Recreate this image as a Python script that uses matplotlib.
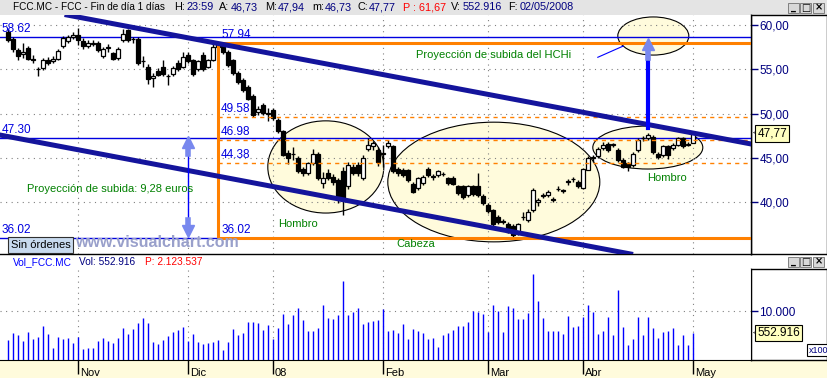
import numpy as np
import matplotlib
matplotlib.use('Agg')
import matplotlib.pyplot as plt
from matplotlib.patches import Ellipse, Rectangle
from matplotlib.transforms import blended_transform_factory

plt.rcParams['font.family'] = ['Liberation Sans', 'DejaVu Sans']

# daily candles FCC.MC, oct-2007 .. 02/05/2008 (one row per session)
opens = [59.2, 58.4, 57.2, 56.7, 57.4, 56.15, 55.0, 55.1, 56.1, 55.9,
         56.2, 57.6, 58.2, 58.7, 58.9, 58.2, 57.6, 57.9, 58.0, 56.5,
         57.4, 56.8, 56.3, 58.3, 59.4, 58.4, 58.4, 55.9, 55.3, 54.0,
         54.8, 55.3, 54.2, 54.5, 55.7, 55.3, 56.6, 56.0, 55.0, 56.6,
         55.3, 56.1, 57.5, 57.6, 57.0, 56.0, 54.6, 53.8, 53.0, 52.0,
         50.2, 51.0, 50.0, 50.4, 49.3, 48.0, 45.6, 45.4, 45.0, 43.8,
         43.3, 44.4, 45.5, 42.2, 43.3, 42.9, 42.5, 43.5, 41.8, 44.0,
         44.2, 42.7, 46.0, 46.3, 45.9, 45.5, 46.3, 46.3, 43.8, 43.65,
         43.6, 42.1, 41.6, 42.2, 43.8, 42.9, 43.1, 43.2, 42.7, 42.7,
         41.8, 41.8, 40.8, 41.8, 41.8, 40.7, 39.7, 39.1, 38.4, 37.85,
         37.6, 37.3, 36.5, 38.35, 38.0, 39.1, 40.0, 40.75, 40.8, 40.3,
         41.5, 41.3, 42.3, 42.6, 42.3, 41.6, 43.7, 45.0, 45.2, 46.1,
         46.6, 46.5, 45.9, 44.8, 44.4, 44.2, 45.9, 47.2, 47.2, 47.4,
         45.5, 45.3, 46.3, 46.1, 46.5, 47.2, 46.5, 46.73]
highs = [59.5, 58.6, 57.4, 58.0, 57.6, 56.6, 55.3, 56.3, 56.4, 56.5,
         57.3, 58.8, 58.9, 59.2, 59.7, 58.5, 58.3, 58.3, 58.2, 57.5,
         57.9, 57.0, 57.5, 59.5, 59.6, 58.7, 58.6, 56.5, 55.6, 54.6,
         55.2, 56.0, 54.5, 55.4, 56.0, 56.9, 56.9, 56.2, 56.1, 57.0,
         56.2, 57.9, 57.94, 57.8, 57.2, 56.2, 54.8, 54.0, 53.2, 52.2,
         50.9, 51.2, 50.6, 50.6, 49.5, 48.2, 45.9, 46.2, 45.2, 44.0,
         44.6, 46.0, 45.7, 43.4, 43.8, 43.2, 42.7, 44.0, 44.5, 44.3,
         44.6, 45.3, 47.2, 46.9, 46.2, 46.5, 47.0, 46.5, 44.0, 43.9,
         43.8, 42.3, 42.9, 43.1, 44.0, 43.2, 43.7, 43.4, 42.9, 43.0,
         42.0, 42.0, 42.0, 42.0, 43.3, 40.9, 39.9, 39.3, 38.6, 38.1,
         37.8, 37.5, 37.7, 38.9, 39.2, 41.6, 40.5, 41.0, 41.4, 40.6,
         41.8, 41.5, 42.6, 42.9, 42.5, 43.9, 45.2, 45.3, 46.2, 46.8,
         46.8, 46.7, 46.1, 45.0, 44.6, 45.7, 47.2, 47.5, 47.8, 47.6,
         45.7, 46.5, 46.5, 46.7, 47.4, 47.4, 46.8, 47.94]
lows = [58.1, 57.0, 56.0, 56.3, 56.0, 55.7, 54.2, 54.9, 55.5, 55.7,
        56.0, 57.4, 58.0, 58.4, 57.8, 57.3, 57.4, 57.6, 56.9, 56.3,
        56.9, 56.0, 56.1, 58.1, 58.1, 58.0, 55.5, 55.3, 53.4, 53.0,
        54.2, 54.3, 53.2, 54.2, 54.8, 55.1, 55.7, 54.3, 54.8, 54.8,
        55.1, 55.9, 57.2, 56.7, 55.3, 54.4, 53.4, 52.5, 51.5, 49.6,
        49.9, 49.8, 49.2, 49.3, 47.8, 45.2, 44.3, 44.8, 43.3, 43.0,
        43.1, 44.2, 42.5, 41.6, 42.5, 42.0, 39.9, 38.6, 41.5, 43.1,
        43.0, 42.5, 45.8, 45.9, 44.1, 44.0, 46.1, 43.3, 43.0, 42.9,
        42.3, 41.0, 41.4, 42.0, 42.9, 42.5, 42.9, 43.0, 42.0, 41.9,
        40.8, 40.4, 40.6, 40.7, 40.6, 39.7, 38.8, 37.3, 37.6, 37.5,
        36.5, 36.02, 36.3, 38.0, 37.8, 38.9, 39.6, 40.5, 40.6, 40.0,
        41.3, 41.1, 42.0, 42.3, 41.6, 41.5, 43.6, 44.6, 45.0, 45.9,
        45.7, 46.2, 44.6, 43.9, 43.5, 44.0, 45.7, 46.9, 47.0, 45.5,
        44.9, 45.1, 44.9, 45.9, 46.3, 46.1, 46.3, 46.73]
closes = [58.3, 57.3, 56.5, 57.0, 56.2, 56.1, 55.0, 56.1, 55.7, 56.2,
          57.1, 58.5, 58.6, 58.9, 58.3, 57.6, 58.0, 58.0, 57.2, 57.3,
          57.5, 56.2, 57.3, 59.0, 58.3, 58.4, 55.7, 55.9, 53.9, 54.3,
          54.4, 54.5, 54.2, 55.2, 55.0, 56.4, 55.9, 54.5, 55.9, 55.0,
          56.0, 57.5, 57.9, 56.9, 55.5, 54.6, 53.6, 52.7, 51.7, 49.9,
          50.5, 50.1, 50.0, 49.5, 48.0, 45.3, 45.0, 45.5, 43.5, 43.3,
          44.4, 45.5, 42.7, 42.7, 42.7, 42.3, 40.6, 40.5, 44.2, 43.3,
          43.3, 44.97, 46.5, 46.7, 44.5, 45.6, 46.7, 43.5, 43.3, 43.1,
          42.5, 41.2, 42.7, 42.9, 43.1, 42.95, 43.5, 43.25, 42.2, 42.1,
          41.0, 40.6, 41.8, 40.9, 40.8, 39.9, 39.0, 37.5, 37.8, 37.8,
          36.7, 36.3, 37.5, 38.4, 38.95, 41.4, 40.3, 40.8, 41.2, 40.35,
          41.5, 41.35, 42.35, 42.65, 41.8, 43.8, 45.0, 45.1, 46.0, 46.5,
          45.9, 46.55, 44.8, 44.0, 44.0, 45.5, 47.0, 47.25, 47.6, 45.7,
          45.1, 46.3, 45.3, 46.5, 47.2, 46.3, 46.55, 47.77]
# volume in thousands of shares (axis shows x100)
volumes = [411, 555, 514, 390, 575, 432, 473, 699, 534, 247,
           473, 432, 452, 349, 473, 226, 247, 247, 390, 452,
           390, 349, 452, 658, 534, 637, 760, 863, 760, 370,
           329, 411, 493, 575, 617, 678, 390, 534, 370, 329,
           349, 370, 411, 206, 370, 637, 514, 555, 781, 781,
           760, 617, 719, 432, 658, 945, 740, 925, 1069, 822,
           596, 596, 658, 1130, 863, 843, 925, 1623, 925, 986,
           1069, 740, 781, 801, 822, 1048, 596, 617, 555, 740,
           432, 637, 596, 555, 432, 452, 267, 514, 555, 617,
           699, 699, 781, 1007, 986, 945, 575, 1130, 1007, 575,
           1110, 1069, 843, 843, 966, 1767, 1212, 863, 596, 596,
           596, 534, 904, 678, 699, 884, 1130, 986, 534, 596,
           884, 514, 1439, 678, 308, 432, 884, 514, 884, 658,
           452, 575, 596, 658, 308, 514, 308, 553]
month_pos = [14, 36, 53, 75, 96, 115, 137]
month_lbl = ['Nov', 'Dic', '08', 'Feb', 'Mar', 'Abr', 'May']
price_ticks = [40, 45, 50, 55, 60]
fibo_levels = [57.94, 49.58, 46.98, 44.38, 36.02]
last_close = 47.77
last_vol = 552.916

opens = np.array(opens); highs = np.array(highs)
lows = np.array(lows); closes = np.array(closes)
idx = np.arange(len(closes))

W, H = 828, 378
fig = plt.figure(figsize=(W / 100, H / 100), dpi=100, facecolor='white')


def box(x0, y0, x1, y1):
    # axes from pixel box, origin top-left
    return fig.add_axes([x0 / W, 1 - y1 / H, (x1 - x0) / W, (y1 - y0) / H])


def ftext(x, y, s, **kw):
    kw.setdefault('fontsize', 7.3)
    kw.setdefault('va', 'center')
    fig.text(x / W, 1 - y / H, s, **kw)


def buttons(y):
    for i, sym in enumerate(['_', '□', '×']):
        x = 788 + i * 12.5
        fig.add_artist(Rectangle((x / W, 1 - (y + 10) / H), 11 / W, 10 / H,
                                 transform=fig.transFigure, fc='#d8d8d8',
                                 ec='#707070', lw=0.6))
        ftext(x + 5.5, y + 4.5, sym, ha='center', fontsize=7, fontweight='bold',
              family='DejaVu Sans')


def plain(a):
    a.set_xticks([]); a.set_yticks([])
    for s in a.spines.values():
        s.set_visible(False)


# title bar
tb = box(0, 0, W, 15)
tb.set_facecolor('#e4e4e4'); plain(tb)
parts = [(13, 'FCC.MC - FCC - Fin de día 1 días', 'black'), (174, 'H:', 'black'),
         (187, '23:59', '#000080'), (219, 'A:', 'black'), (231, '46,73', '#000080'),
         (265, 'M:', 'black'), (278, '47,94', '#000080'), (312, 'm:', 'black'),
         (325, '46,73', '#000080'), (357, 'C:', 'black'), (369, '47,77', '#000080'),
         (403, 'P : 61,67', 'red'), (451, 'V:', 'black'), (463, '552.916', '#000080'),
         (508, 'F:', 'black'), (520, '02/05/2008', '#000080')]
for x, s, c in parts:
    ftext(x, 7.5, s, color=c, fontsize=7.8 if c != 'black' or len(s) < 4 else 7.2)
buttons(3)

# right price box, then main panel
rb = box(751, 15, 827, 254); plain(rb)
for s in rb.spines.values():
    s.set_visible(True); s.set_linewidth(1)

ax = box(0, 15, 751, 254)
xmin, xmax = -1.66, 148.54
ax.set_xlim(xmin, xmax)
ax.set_ylim(34.17, 61.13)
for s in ['left', 'top']:
    ax.spines[s].set_visible(False)
ax.spines['right'].set_linewidth(1)
ax.spines['bottom'].set_linewidth(1)
ax.yaxis.tick_right()
ax.set_yticks(price_ticks)
ax.set_yticklabels(['%d,00' % v for v in price_ticks])
ax.tick_params(axis='y', length=5, width=1, color='#000080', labelcolor='#000080',
               labelsize=8.5, pad=1)
ax.set_xticks(month_pos)
ax.tick_params(axis='x', length=0, labelbottom=False)
ax.set_axisbelow('line')
ax.grid(True, color='#808080', lw=0.8, ls=(0, (1, 4)))

# pattern ellipses
for cx, cy, w, h in [(63.5, 43.99, 23.2, 10.4), (97.1, 42.29, 42.4, 13.5),
                     (127.9, 46.18, 22.0, 4.85), (129.0, 58.76, 14.2, 4.3)]:
    ax.add_patch(Ellipse((cx, cy), w, h, fc='#fffbdc', ec='black', lw=0.8, zorder=1))

# candles
up = closes >= opens
ax.vlines(idx, lows, highs, color='black', lw=1, zorder=4)
ax.bar(idx, np.maximum(np.abs(closes - opens), 0.05), bottom=np.minimum(opens, closes),
       width=0.75, color=np.where(up, 'white', 'black'), edgecolor='black', lw=0.9,
       zorder=4.1)

# reference levels
for lv in [58.62, 47.30, 36.02]:
    ax.axhline(lv, color='#0000e0', lw=1, zorder=3)
ax.vlines(42, 36.02, 57.94, color='#ff8000', lw=2.2, zorder=5)
ax.hlines([57.94, 36.02], 42, xmax, color='#ff8000', lw=2.2, zorder=5)
ax.hlines([49.58, 46.98, 44.38], 42, xmax, color='#ff8000', lw=1, ls=(0, (3, 3)), zorder=5)
for lv in fibo_levels:
    ax.annotate('%.2f' % lv, (42, lv), xytext=(2, 1.5), textcoords='offset points',
                color='#0000e0', fontsize=8.5, va='bottom', zorder=6)
for lv in [58.62, 47.30, 36.02]:
    ax.annotate('%.2f' % lv, (xmin, lv), xytext=(1, 1.5), textcoords='offset points',
                color='#0000e0', fontsize=8.5, va='bottom', zorder=6)

# trend channel
ax.axline((41.74, 57.94), (150.34, 46.39), color='#14149c', lw=3.6, zorder=5)
ax.axline((-1.66, 47.59), (122.3, 34.40), color='#14149c', lw=3.6, zorder=5)

# projection arrows
ax.plot([36, 36], [36.6, 46.6], color='#0000ff', lw=1, zorder=6)
ax.plot([36, 36], [45.4, 46.2], color='#7888ee', lw=4, zorder=6)
ax.plot([36, 36], [37.2, 38.0], color='#7888ee', lw=4, zorder=6)
ax.plot(36, 46.75, marker='^', ms=9, color='#7888ee', mec='#7888ee', zorder=6)
ax.plot(36, 36.75, marker='v', ms=9, color='#7888ee', mec='#7888ee', zorder=6)
ax.plot([128, 128], [48.38, 56.3], color='#0000ff', lw=3, zorder=6)
ax.plot([128, 128], [56.3, 57.4], color='#7888ee', lw=4, zorder=6)
ax.plot(128, 57.9, marker='^', ms=9, color='#7888ee', mec='#7888ee', zorder=6)
ax.plot([117.9, 123.0], [56.36, 57.63], color='#0000ff', lw=0.8, zorder=6)

green = '#008000'
ax.text(3.66, 41.5, 'Proyección de subida: 9,28 euros', color=green, fontsize=8,
        va='center', zorder=7)
ax.text(53.9, 37.56, 'Hombro', color=green, fontsize=8, va='center', zorder=7)
ax.text(77.7, 35.3, 'Cabeza', color=green, fontsize=8, va='center', zorder=7)
ax.text(127.7, 42.75, 'Hombro', color=green, fontsize=8, va='center', zorder=7)
ax.text(81.5, 56.6, 'Proyección de subida del HCHi', color=green, fontsize=8,
        va='center', zorder=7)
ax.text(13.4, 35.45, 'www.visualchart.com', color='#99a0cb', fontsize=11.5,
        fontweight='bold', va='center', zorder=7)
ax.text(0.5, 35.2, 'Sin órdenes', color='black', fontsize=8, va='center', zorder=8,
        bbox=dict(boxstyle='square,pad=0.25', fc='#c8daee', ec='#303030', lw=0.8))

# last price flag
tr = blended_transform_factory(ax.transAxes, ax.transData)
ax.text(1.0027, last_close, '<', transform=tr, fontsize=6, va='center', clip_on=False)
ax.text(1.0085, last_close, ('%.2f' % last_close).replace('.', ','), transform=tr,
        fontsize=8.5, va='center', clip_on=False,
        bbox=dict(boxstyle='square,pad=0.18', fc='#ffffc0', ec='black', lw=0.8))

# volume header
ftext(13, 262, 'Vol_FCC.MC', color='#0000ff')
ftext(79, 262, 'Vol: 552.916', color='#000080')
ftext(145, 262, 'P: 2.123.537', color='red')
buttons(257)

# volume panel
vb = box(751, 269, 827, 360); plain(vb)
for s in vb.spines.values():
    s.set_visible(True); s.set_linewidth(1)
vb.text(0.76, 0.06, 'x100', transform=vb.transAxes, fontsize=6.5, color='#000080',
        va='bottom', bbox=dict(boxstyle='square,pad=0.15', fc='white', ec='black', lw=0.8))

av = box(0, 269, 751, 360)
av.set_xlim(xmin, xmax)
av.set_ylim(0, 1869)
for s in ['left', 'top']:
    av.spines[s].set_visible(False)
av.yaxis.tick_right()
av.set_yticks([1000])
av.set_yticklabels(['10.000'])
av.tick_params(axis='y', length=5, width=1, color='#000080', labelcolor='#000080',
               labelsize=8.5, pad=1)
av.set_xticks(month_pos)
av.tick_params(axis='x', length=10, width=1, color='black', labelbottom=False)
av.set_axisbelow('line')
av.grid(True, color='#808080', lw=0.8, ls=(0, (1, 4)))
av.vlines(idx, 0, volumes, color='#0000ff', lw=1, zorder=3)
trv = blended_transform_factory(av.transAxes, av.transData)
av.text(1.0027, last_vol, '<', transform=trv, fontsize=6, va='center', clip_on=False)
av.text(1.0085, last_vol, '552.916', transform=trv, fontsize=8.5, va='center',
        clip_on=False, bbox=dict(boxstyle='square,pad=0.18', fc='#ffffc0', ec='black', lw=0.8))

# date strip
ds = box(0, 360, W, 378)
ds.set_facecolor('#fffbdc'); plain(ds)
ds.set_zorder(-1)
trd = blended_transform_factory(av.transData, fig.transFigure)
for p, lb in zip(month_pos, month_lbl):
    av.text(p + 0.35, 1 - 372.5 / H, lb, transform=trd, fontsize=8, va='center',
            clip_on=False)

fig.savefig('out.png', dpi=100)
